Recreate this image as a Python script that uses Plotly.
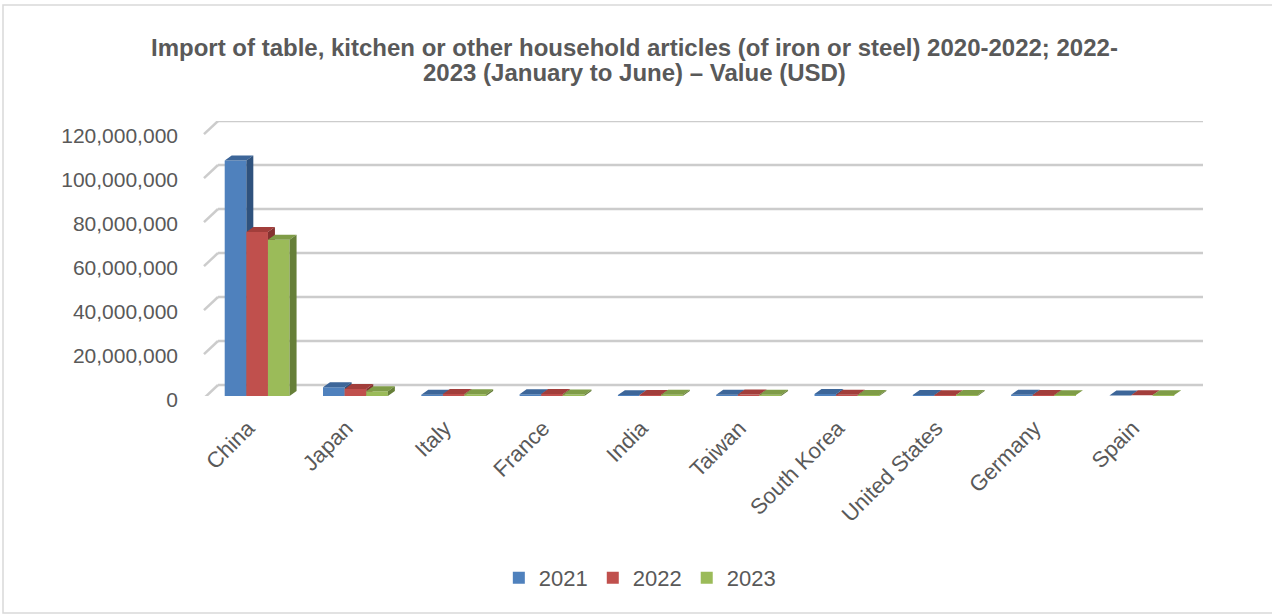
import plotly.graph_objects as go

# datos
paises = ["China", "Japan", "Italy", "France", "India", "Taiwan",
          "South Korea", "United States", "Germany", "Spain"]
v2021 = [107000000, 4000000, 600000, 800000, 400000, 600000, 900000, 500000, 600000, 200000]
v2022 = [74500000, 3200000, 900000, 900000, 500000, 700000, 600000, 400000, 500000, 300000]
v2023 = [71000000, 2200000, 800000, 700000, 600000, 600000, 500000, 500000, 400000, 400000]
anios = ["2021", "2022", "2023"]
ticks_y = [0, 20000000, 40000000, 60000000, 80000000, 100000000, 120000000]

colores = ["#4f81bd", "#c0504d", "#9bbb59"]
techos = ["#3d6699", "#a23e3b", "#7f9c47"]
lados = ["#2f527d", "#853230", "#667f38"]

gris = "#595959"
fuente = "Liberation Sans, Arial, sans-serif"

ancho = 0.22
offsets = [-0.33, -0.11, 0.11]
dx = 0.071        # profundidad (falso 3D)
dy = 2270000


def caras(valores, off):
    # poligonos frontal, superior y lateral de cada barra
    fr_x, fr_y, te_x, te_y, la_x, la_y = [], [], [], [], [], []
    for i, v in enumerate(valores):
        a = i + off
        b = a + ancho
        fr_x += [a, b, b, a, a, None]
        fr_y += [0, 0, v, v, 0, None]
        te_x += [a, b, b + dx, a + dx, a, None]
        te_y += [v, v, v + dy, v + dy, v, None]
        la_x += [b, b + dx, b + dx, b, b, None]
        la_y += [0, dy, v + dy, v, 0, None]
    return (fr_x, fr_y), (te_x, te_y), (la_x, la_y)


fig = go.Figure()

for serie, col, te, la, off in zip([v2021, v2022, v2023], colores, techos, lados, offsets):
    frente, techo, lado = caras(serie, off)
    for (px, py), c in [(frente, col), (techo, te), (lado, la)]:
        fig.add_trace(go.Scatter(
            x=px, y=py, mode="lines", fill="toself",
            fillcolor=c, line=dict(width=0, color=c),
            showlegend=False, hoverinfo="skip"))

# leyenda
for nombre, col in zip(anios, colores):
    fig.add_trace(go.Scatter(
        x=[None], y=[None], mode="markers", name=nombre,
        marker=dict(symbol="square", size=12, color=col)))

W = 995.0
H = 275.0
fig.update_layout(
    width=1272, height=615,
    margin=dict(l=208, r=69, t=121, b=219),
    plot_bgcolor="white", paper_bgcolor="white",
    font=dict(family=fuente, color=gris, size=21),
    xaxis=dict(domain=[0, 983 / W], range=[-0.5, 9.5],
               tickvals=list(range(len(paises))), ticktext=paises, tickangle=-45,
               showgrid=False, zeroline=False, showline=False,
               ticklabelstandoff=14, ticklabelshift=-9,
               tickfont=dict(size=22, color=gris)),
    yaxis=dict(range=[0, 125000000], tickvals=ticks_y, tickformat=",d",
               showgrid=False, zeroline=False, showline=False,
               ticklabelstandoff=29, ticklabelshift=4,
               tickfont=dict(size=21, color=gris)),
    legend=dict(orientation="h", x=0.434, xanchor="center",
                y=-(578 - 396) / H, yanchor="middle",
                font=dict(size=22, color=gris), traceorder="normal"),
)

# titulo en dos lineas
titulo = ["Import of table, kitchen or other household articles (of iron or steel) 2020-2022; 2022-",
          "2023 (January to June) – Value (USD)"]
for linea, yp in zip(titulo, [47, 72]):
    fig.add_annotation(text=linea, xref="paper", yref="paper",
                       x=(634 - 208) / W, y=(396 - yp) / H,
                       xanchor="center", yanchor="middle", showarrow=False,
                       font=dict(family=fuente, size=24, color=gris, weight="bold"))

# pared del fondo: rejilla desplazada y diagonales laterales
for v in ticks_y:
    fig.add_shape(type="line", xref="paper", yref="y",
                  x0=10 / W, x1=1, y0=v + 5000000, y1=v + 5000000,
                  line=dict(color="#cccccc", width=2.5), layer="below")
    fig.add_shape(type="line", xref="paper", yref="y",
                  x0=-4 / W, x1=10 / W, y0=v - 1000000, y1=v + 5000000,
                  line=dict(color="#cccccc", width=2.5), layer="below")

# borde del grafico
fig.add_shape(type="rect", xref="paper", yref="paper",
              x0=(3 - 208) / W, x1=(1274 - 208) / W,
              y0=-(613 - 396) / H, y1=(396 - 5) / H,
              line=dict(color="#d9d9d9", width=1.5))

fig.write_html("out.html", config={"displayModeBar": False},
               post_script="document.body.style.margin='0';")
